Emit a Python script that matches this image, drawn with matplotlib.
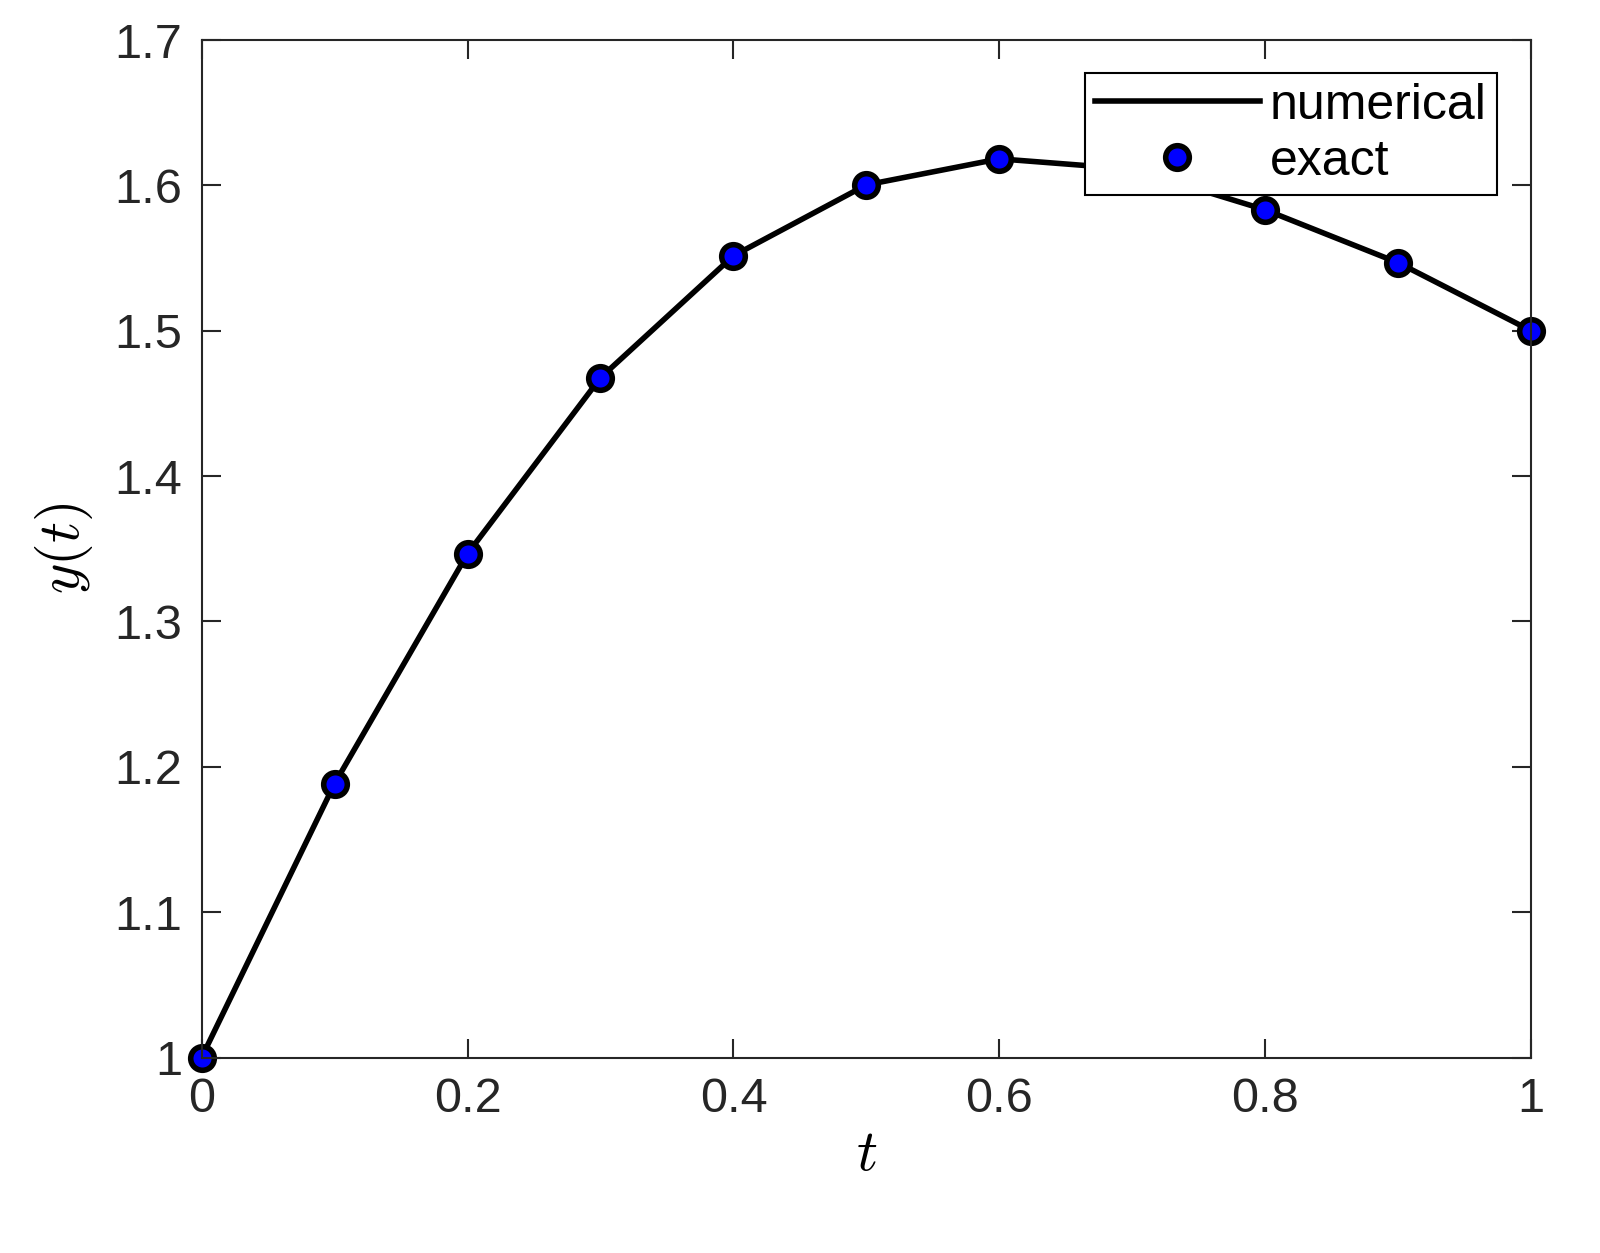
import matplotlib
matplotlib.use("Agg")
import matplotlib.pyplot as plt

t = [0.0, 0.1, 0.2, 0.3, 0.4, 0.5, 0.6, 0.7, 0.8, 0.9, 1.0]
y_num = [1.0, 1.1884, 1.3466, 1.4677, 1.5516, 1.6004, 1.6183, 1.6112, 1.5832, 1.5468, 1.5]
y_exact = [1.0, 1.1884, 1.3466, 1.4677, 1.5516, 1.6004, 1.6183, 1.6112, 1.5832, 1.5468, 1.5]
xticks = [0, 0.2, 0.4, 0.6, 0.8, 1]
xticklabels = ["0", "0.2", "0.4", "0.6", "0.8", "1"]
yticks = [1, 1.1, 1.2, 1.3, 1.4, 1.5, 1.6, 1.7]
yticklabels = ["1", "1.1", "1.2", "1.3", "1.4", "1.5", "1.6", "1.7"]

plt.rcParams['font.family'] = ['Liberation Sans', 'DejaVu Sans']
plt.rcParams['mathtext.fontset'] = 'cm'
fig = plt.figure(figsize=(16, 12.53), dpi=100)
ax = fig.add_axes([0.126, 0.156, 0.831, 0.812])
ax.plot(t, y_num, color='black', lw=4, label='numerical')
ax.plot(t, y_exact, 'o', color='black', mfc='blue', mec='black', mew=4, ms=17, label='exact', clip_on=False)
ax.set_xlim(0, 1)
ax.set_ylim(1, 1.7)
ax.set_xticks(xticks)
ax.set_xticklabels(xticklabels)
ax.set_yticks(yticks)
ax.set_yticklabels(yticklabels)
ax.tick_params(direction='in', top=True, right=True, length=14, width=1.5, labelsize=35, colors='#262626', pad=14)
for s in ax.spines.values():
    s.set_linewidth(1.5)
    s.set_color('#262626')
ax.set_xlabel('$t$', fontsize=42, labelpad=4)
ax.set_ylabel('$y(t)$', fontsize=42, labelpad=14)
leg = ax.legend(loc='upper right', bbox_to_anchor=(0.974, 0.968), fontsize=36, frameon=True, fancybox=False,
                framealpha=1, edgecolor='black', handlelength=3.3, handletextpad=0.2, borderpad=0.2,
                labelspacing=0.2, borderaxespad=0)
leg.get_frame().set_linewidth(1.5)
leg.set_zorder(10)
fig.savefig('out.png', dpi=100)
